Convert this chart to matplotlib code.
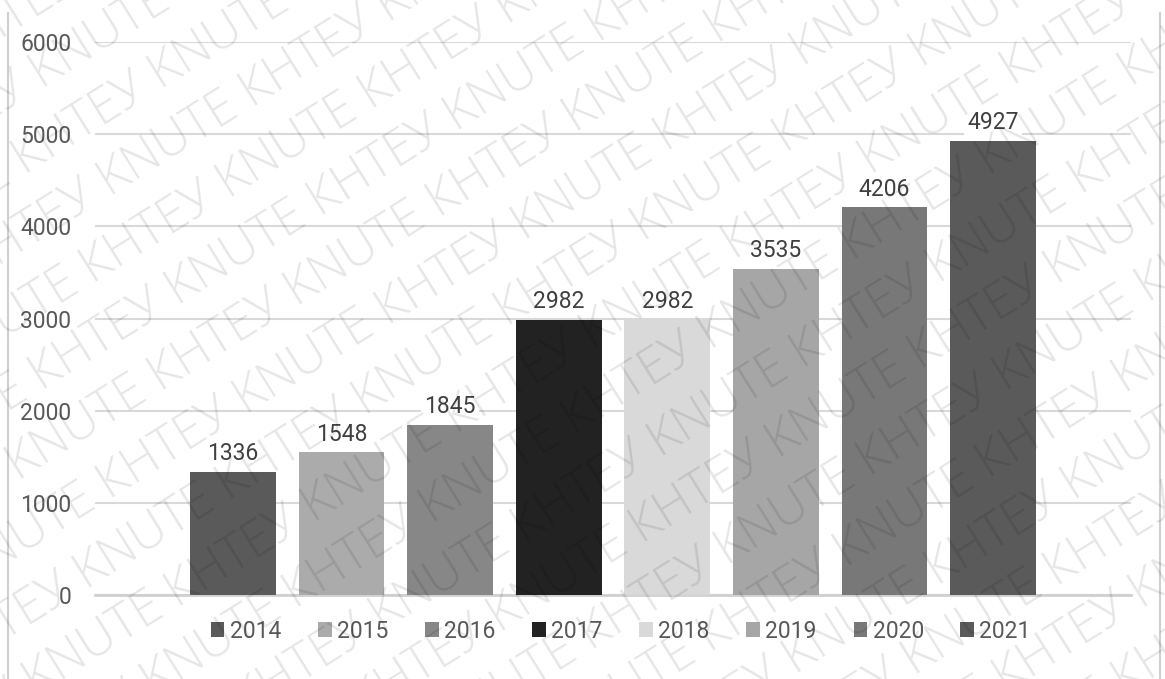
import numpy as np
import matplotlib
matplotlib.use("Agg")
import matplotlib.pyplot as plt
from matplotlib.lines import Line2D

# дані
years = ["2014", "2015", "2016", "2017", "2018", "2019", "2020", "2021"]
values = [1336, 1548, 1845, 2982, 2982, 3535, 4206, 4927]
bar_colors = ["#5a5a5a", "#ababab", "#878787", "#222222",
              "#d9d9d9", "#a6a6a6", "#787878", "#5a5a5a"]
y_ticks = [0, 1000, 2000, 3000, 4000, 5000, 6000]

W, H = 1165, 679
num_font = ["Roboto", "DejaVu Sans"]
num_size = 16.5

fig = plt.figure(figsize=(W / 100, H / 100), dpi=100)
fig.patch.set_facecolor("white")

# область побудови в пікселях
left, right, bottom, top = 95, 1131, H - 595, H - 42
ax = fig.add_axes([left / W, bottom / H, (right - left) / W, (top - bottom) / H])

x = np.arange(len(years))
for i in range(len(years)):
    ax.bar(x[i], values[i], width=0.79, color=bar_colors[i], label=years[i], zorder=2)
    ax.annotate(str(values[i]), (x[i], values[i]), xytext=(0, 8.5),
                textcoords="offset points", ha="center", va="baseline",
                fontsize=num_size, family=num_font, color="#404040",
                bbox=dict(boxstyle="square,pad=0.15", fc="white", ec="none"),
                zorder=3)

ax.set_xlim(-1.27, len(years) - 1 + 1.27)
ax.set_ylim(0, 6000)
ax.set_yticks(y_ticks)
ax.set_yticklabels([str(t) for t in y_ticks], fontsize=num_size, family=num_font, color="#595959")
ax.set_xticks([])
ax.tick_params(axis="y", length=0, pad=17)
ax.yaxis.grid(True, color="#d9d9d9", linewidth=1.5)
ax.set_axisbelow(True)
for s in ["left", "right", "top"]:
    ax.spines[s].set_visible(False)
ax.spines["bottom"].set_color("#d0d0d0")
ax.spines["bottom"].set_linewidth(2)
ax.spines["bottom"].set_zorder(1)
ax.set_facecolor("none")

leg = ax.legend(loc="center", bbox_to_anchor=(621 / W, 48 / H),
                bbox_transform=fig.transFigure, ncol=len(years), frameon=False,
                prop={"family": num_font, "size": num_size},
                handlelength=0.58, handleheight=0.58, handletextpad=0.25,
                columnspacing=1.6, borderaxespad=0)
for t in leg.get_texts():
    t.set_color("#595959")

# рамка діаграми
for bx in (7.5, 1160):
    fig.add_artist(Line2D([bx / W, bx / W], [0, (H - 13) / H],
                          transform=fig.transFigure, color="#d0d0d0", linewidth=1.5))

# водяний знак
angle = 32
rad = np.deg2rad(angle)
perp = np.array([-np.sin(rad), np.cos(rad)])
along = np.array([np.cos(rad), np.sin(rad)])
mark = " ".join(["КНТЕУ KNUTE"] * 9)
for k in range(-11, 12):
    p = np.array([W / 2, H / 2]) + k * 64 * perp + (k % 2) * 100 * along
    fig.text(p[0] / W, p[1] / H, mark, rotation=angle, rotation_mode="anchor",
             ha="center", va="center", fontsize=36, family=["Open Sans", "DejaVu Sans"],
             fontweight="light", color="black", alpha=0.1, zorder=10)

fig.savefig("out.png", dpi=100, facecolor="white")
